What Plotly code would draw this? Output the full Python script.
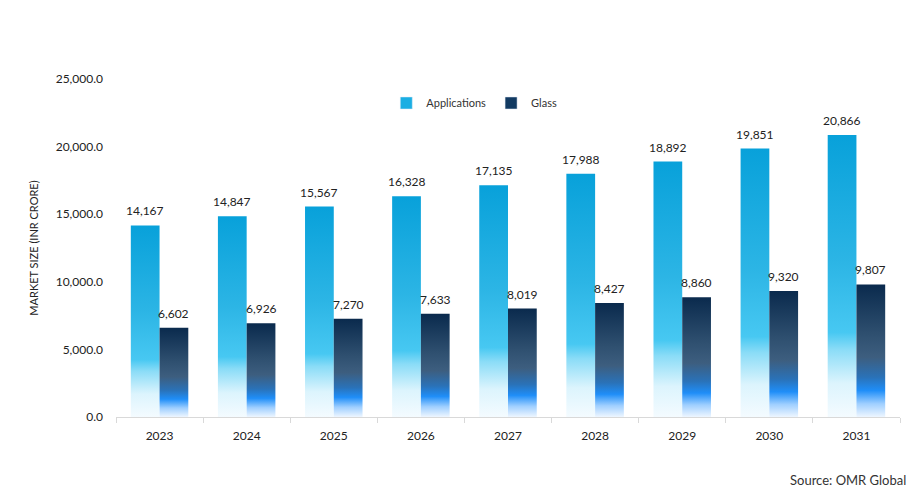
import plotly.graph_objects as go

years = ["2023", "2024", "2025", "2026", "2027", "2028", "2029", "2030", "2031"]
applications = [14167, 14847, 15567, 16328, 17135, 17988, 18892, 19851, 20866]
glass = [6602, 6926, 7270, 7633, 8019, 8427, 8860, 9320, 9807]
y_ticks = [0, 5000, 10000, 15000, 20000, 25000]

BAR_W = 0.33
FONT = "Lato, Open Sans, sans-serif"

app_scale = [[0, "#f4fbff"], [0.12, "#dcf4fd"], [0.24, "#8adcf7"], [0.3, "#47c8f2"],
             [0.55, "#2cb5e5"], [1, "#08a1da"]]
glass_scale = [[0, "#eef6ff"], [0.1, "#9fcfff"], [0.2, "#1f8ef8"], [0.3, "#2a72b8"],
               [0.45, "#3d5e7f"], [0.62, "#2f5070"], [1, "#0a2a4d"]]

series = [("Applications", applications, -BAR_W, app_scale, "#1aaee3"),
          ("Glass", glass, 0.0, glass_scale, "#123a62")]

fig = go.Figure()
annotations = []
for name, vals, off, scale, base in series:
    # legend entry (square swatch)
    fig.add_trace(go.Bar(x=[None], y=[None], name=name, marker_color=base,
                         showlegend=True, hoverinfo="skip"))
    for i, v in enumerate(vals):
        x0, x1 = i + off, i + off + BAR_W
        fig.add_trace(go.Scatter(
            x=[x0, x0, x1, x1, x0], y=[0, v, v, 0, 0],
            mode="lines", fill="toself", line=dict(width=0, color=base),
            fillcolor=base,
            fillgradient=dict(type="vertical", colorscale=scale),
            name=name, showlegend=False, hoverinfo="skip"))
        annotations.append(dict(x=i + off + BAR_W / 2, y=v, xref="x", yref="y",
                                text=f"{v:,}", showarrow=False, yanchor="bottom",
                                yshift=5, font=dict(size=12, color="#222", family=FONT)))

annotations.append(dict(text="Source: OMR Global", xref="paper", yref="paper",
                        x=1.0102, y=-0.186, xanchor="right", yanchor="middle",
                        showarrow=False, font=dict(size=13, color="#333", family=FONT)))

fig.update_layout(
    width=918, height=490,
    margin=dict(l=108, r=26, t=71, b=81),
    paper_bgcolor="white", plot_bgcolor="white",
    font=dict(family=FONT, size=11, color="#333"),
    barmode="overlay",
    legend=dict(orientation="h", x=0.457, xanchor="center", y=0.929, yanchor="middle",
                font=dict(size=11, color="#333"), itemwidth=30,
                bgcolor="rgba(0,0,0,0)"),
    xaxis=dict(range=[-0.5, len(years) - 0.5], tickmode="array",
               tickvals=list(range(len(years))), ticktext=years, ticks="",
               showgrid=False, zeroline=False, showline=True, linecolor="#d9d9d9",
               linewidth=1, tickfont=dict(size=12, color="#222"), ticklabelstandoff=8,
               minor=dict(tickmode="array", tickvals=[i - 0.5 for i in range(len(years) + 1)],
                          ticks="outside", ticklen=5, tickcolor="#d9d9d9", showgrid=False)),
    yaxis=dict(range=[0, 25000], tickmode="array", tickvals=y_ticks,
               ticktext=[f"{t:,.1f}" for t in y_ticks], showgrid=False, zeroline=False,
               showline=False, ticks="", tickfont=dict(size=12, color="#222"),
               ticklabelstandoff=12,
               title=dict(text="MARKET SIZE (INR CRORE)", font=dict(size=11, color="#222"),
                          standoff=14)),
    annotations=annotations,
)

fig.write_html("out.html")
